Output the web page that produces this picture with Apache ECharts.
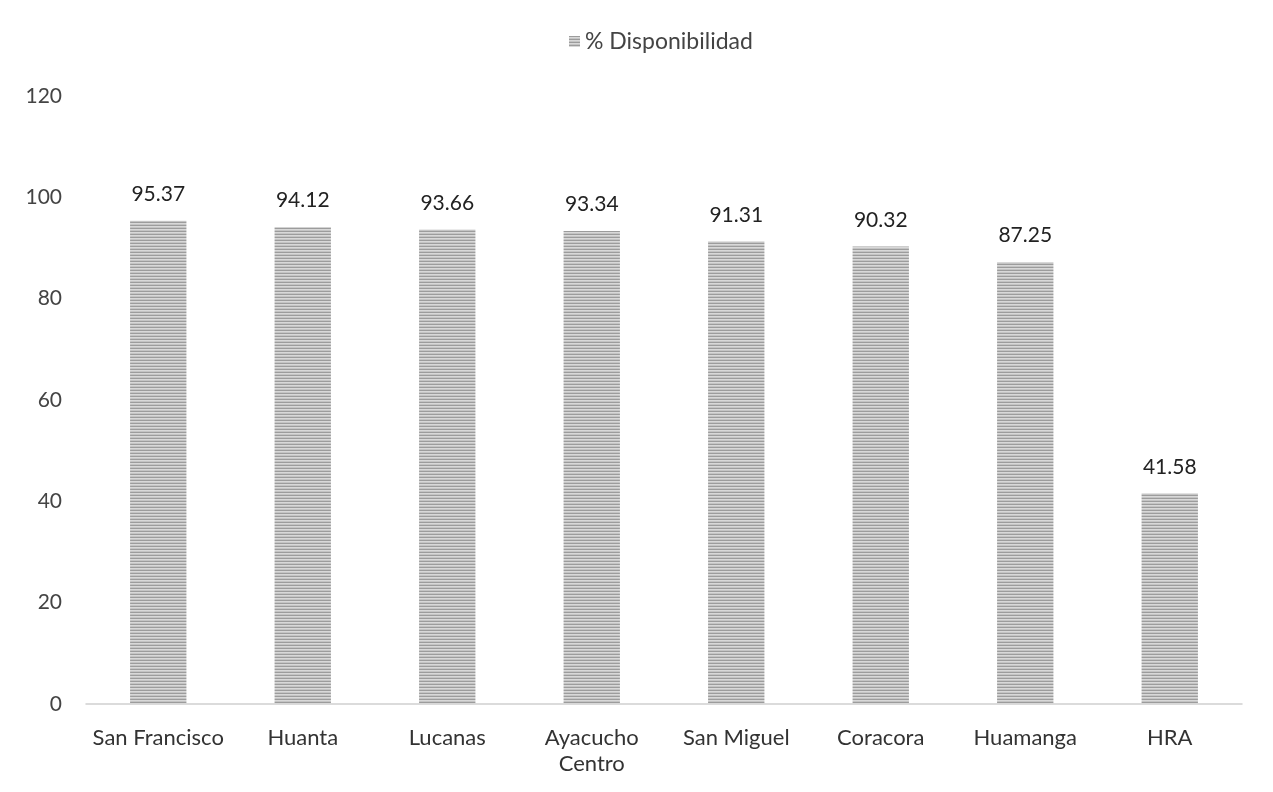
<!DOCTYPE html>
<html><head><meta charset="utf-8">
<script src="https://cdn.jsdelivr.net/npm/echarts@6/dist/echarts.min.js"></script>
<style>html,body{margin:0;padding:0;background:#fff}#c{width:1273px;height:792px}</style>
</head><body><div id="c"></div>
<script>
const categories = ['San Francisco','Huanta','Lucanas','Ayacucho\nCentro','San Miguel','Coracora','Huamanga','HRA'];
const values = [95.37, 94.12, 93.66, 93.34, 91.31, 90.32, 87.25, 41.58];
const seriesName = '% Disponibilidad';

function makePattern(){
  const c = document.createElement('canvas');
  c.width = 8; c.height = 3;
  const g = c.getContext('2d');
  g.fillStyle = '#d8d8d8'; g.fillRect(0,0,8,3);
  g.fillStyle = '#9c9c9c'; g.fillRect(0,0,8,1);
  g.fillStyle = '#c4c4c4'; g.fillRect(0,2,8,1);
  return c;
}
const pat = {image: makePattern(), repeat: 'repeat'};
const font = 'Lato, "Open Sans", sans-serif';
const chart = echarts.init(document.getElementById('c'));
chart.setOption({
  animation: false,
  textStyle: {fontFamily: font},
  legend: {
    top: 25, left: 564, itemWidth: 11, itemHeight: 11, itemGap: 8,
    textStyle: {fontSize: 23, color: '#444', fontFamily: font},
    data: [{name: seriesName, icon: 'rect'}]
  },
  grid: {left: 86, right: 31, top: 96, bottom: 88, containLabel: false},
  xAxis: {
    type: 'category', data: categories,
    axisLine: {lineStyle: {color: '#d0d0d0', width: 1.5}},
    axisTick: {show: false},
    axisLabel: {interval: 0, fontSize: 22, color: '#333', margin: 21, lineHeight: 26, fontFamily: font}
  },
  yAxis: {
    type: 'value', min: 0, max: 120, interval: 20,
    splitLine: {show: false},
    axisLine: {show: false}, axisTick: {show: false},
    axisLabel: {fontSize: 21, color: '#444', margin: 24, fontFamily: font}
  },
  series: [{
    name: seriesName, type: 'bar', data: values, barWidth: '39%',
    itemStyle: {color: pat},
    label: {show: true, position: 'top', distance: 16, fontSize: 21, color: '#222', fontFamily: font}
  }]
});
</script></body></html>
